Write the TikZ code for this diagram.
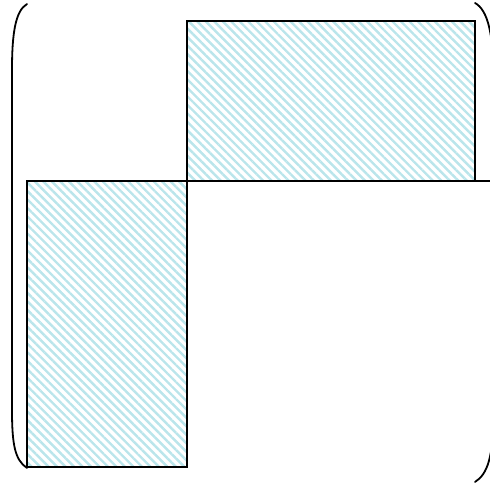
\documentclass[tikz,border=0pt]{standalone}
\usetikzlibrary{patterns.meta}

\definecolor{hatchcyan}{RGB}{186,229,235}

\begin{document}
\begin{tikzpicture}[
			x=1pt, y=-1pt,
			block/.style={draw, line width=1.6pt,
				pattern={Lines[angle=-45, distance=6pt, line width=2.4pt]},
				pattern color=hatchcyan},
			paren/.style={draw, line width=1.8pt, line cap=round}
		]
			\useasboundingbox (0,0) rectangle (490,486);

			% corners of the two blocks
			\coordinate (tl) at (187,21);
			\coordinate (tr) at (475,181);
			\coordinate (bl) at (27,181);
			\coordinate (br) at (187,467);
			\coordinate (rend) at (492,181);

			% hatched blocks
			\path[block] (tl) rectangle (tr);
			\path[block] (bl) rectangle (br);
			\draw[line width=1.6pt] (tr) -- (rend);

			% brackets round the matrix
			\path[paren] (27,4) .. controls (15,11) and (12,35) .. (12,70)
				-- (12,410) .. controls (12,445) and (15,460) .. (27,468);
			\path[paren] (475,3) .. controls (488,10) and (493,35) .. (493,70)
				-- (493,420) .. controls (493,455) and (488,474) .. (475,482);
		\end{tikzpicture}
\end{document}
